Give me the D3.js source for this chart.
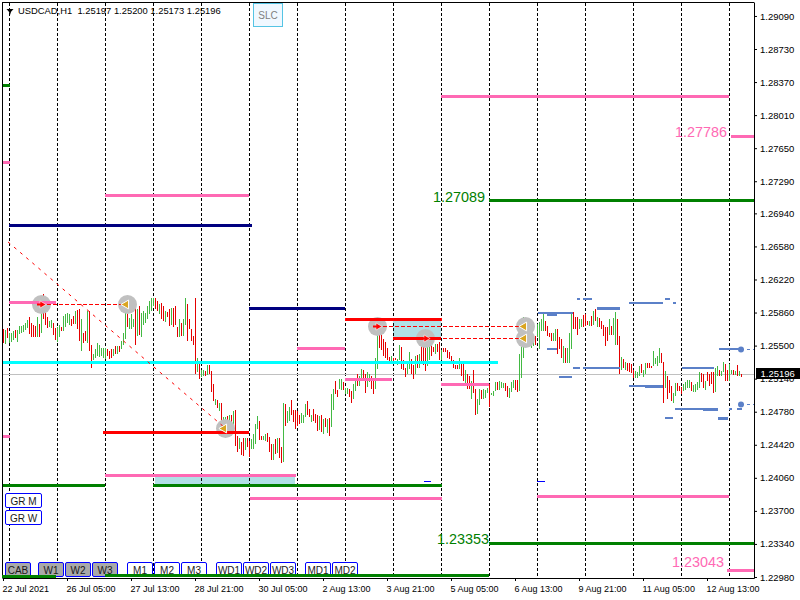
<!DOCTYPE html>
<html>
<head>
<meta charset="utf-8">
<script src="https://cdn.jsdelivr.net/npm/d3@7"></script>
<style>
  html, body { margin: 0; padding: 0; background: #fff; }
  svg { display: block; }
  text { font-family: "Liberation Sans", Arial, sans-serif; }
</style>
</head>
<body>
<div id="drawing"></div>
<script>
const width = 800;
const height = 600;

// hourly bars, in pips (12569 = 1.2569). 10 per row
const barOpen = [
  12569,12553,12570,12554,12555,12557,12568,12555,12564,12565,
  12566,12568,12570,12582,12576,12573,12572,12560,12575,12565,
  12607,12591,12582,12571,12570,12576,12570,12555,12560,12571,
  12567,12571,12576,12574,12580,12583,12575,12590,12591,12545,
  12565,12567,12554,12589,12552,12535,12538,12540,12539,12540,
  12538,12537,12547,12545,12547,12540,12551,12542,12551,12547,
  12552,12558,12596,12569,12569,12571,12594,12562,12594,12560,
  12574,12576,12580,12585,12589,12594,12603,12600,12585,12598,
  12594,12577,12588,12591,12574,12592,12594,12571,12560,12576,
  12562,12574,12596,12580,12569,12562,12603,12522,12531,12517,
  12518,12523,12519,12530,12523,12509,12486,12492,12480,12489,
  12456,12460,12474,12456,12475,12460,12481,12453,12439,12446,
  12451,12437,12450,12447,12439,12439,12444,12460,12469,12453,
  12448,12447,12456,12452,12444,12426,12449,12434,12450,12441,
  12424,12487,12467,12469,12492,12481,12481,12480,12475,12467,
  12467,12473,12491,12482,12468,12482,12477,12476,12459,12475,
  12455,12472,12456,12472,12462,12481,12513,12503,12504,12503,
  12511,12498,12498,12504,12502,12493,12502,12520,12507,12513,
  12525,12520,12506,12511,12518,12515,12504,12526,12576,12571,
  12558,12555,12549,12539,12533,12538,12538,12530,12535,12550,
  12535,12527,12520,12526,12536,12530,12520,12541,12527,12552,
  12551,12549,12529,12535,12555,12550,12542,12553,12555,12535,
  12549,12549,12546,12544,12540,12535,12530,12530,12526,12531,
  12531,12509,12520,12518,12493,12524,12504,12477,12486,12503,
  12493,12494,12500,12509,12497,12496,12502,12511,12503,12505,
  12505,12510,12507,12494,12501,12505,12514,12514,12502,12516,
  12538,12578,12569,12567,12549,12551,12562,12560,12547,12567,
  12567,12578,12572,12565,12565,12556,12556,12569,12560,12558,
  12532,12549,12532,12532,12547,12588,12582,12582,12569,12571,
  12584,12585,12578,12572,12583,12574,12591,12571,12581,12578,
  12574,12571,12571,12563,12572,12563,12552,12580,12562,12525,
  12537,12525,12532,12532,12531,12524,12516,12516,12518,12531,
  12517,12520,12532,12532,12529,12529,12531,12529,12532,12543,
  12533,12505,12518,12514,12507,12489,12496,12510,12507,12506,
  12502,12503,12505,12505,12511,12501,12501,12503,12505,12521,
  12520,12503,12522,12520,12522,12522,12501,12518,12524,12518,
  12522,12531,12524,12513,12520,12525,12519,12530,12518,12520
];
const barClose = [
  12554,12568,12559,12565,12565,12567,12559,12568,12572,12572,
  12574,12576,12579,12564,12560,12560,12560,12582,12560,12591,
  12580,12574,12570,12578,12579,12563,12557,12571,12573,12567,
  12583,12586,12587,12585,12572,12575,12589,12569,12556,12580,
  12554,12556,12589,12545,12527,12542,12547,12554,12552,12549,
  12549,12548,12540,12536,12538,12547,12542,12551,12544,12556,
  12565,12594,12571,12581,12585,12580,12552,12591,12563,12587,
  12589,12587,12594,12600,12603,12603,12591,12589,12596,12580,
  12578,12589,12582,12572,12592,12571,12573,12560,12580,12562,
  12580,12603,12556,12569,12556,12552,12520,12538,12515,12525,
  12524,12518,12530,12520,12501,12491,12493,12483,12489,12462,
  12473,12473,12454,12475,12467,12480,12442,12435,12451,12432,
  12431,12451,12441,12430,12449,12455,12466,12474,12448,12448,
  12453,12455,12446,12435,12426,12444,12433,12450,12429,12423,
  12489,12464,12480,12484,12476,12468,12460,12464,12466,12478,
  12475,12487,12475,12473,12475,12469,12467,12458,12474,12457,
  12471,12462,12471,12453,12498,12504,12498,12495,12515,12515,
  12503,12505,12505,12495,12489,12509,12516,12507,12518,12526,
  12513,12499,12522,12520,12504,12498,12538,12571,12549,12546,
  12540,12538,12535,12534,12540,12533,12535,12536,12552,12526,
  12525,12517,12531,12544,12520,12515,12540,12527,12542,12533,
  12530,12523,12563,12558,12540,12544,12553,12544,12535,12546,
  12544,12544,12538,12537,12533,12527,12526,12526,12538,12518,
  12512,12524,12504,12504,12513,12500,12475,12493,12504,12493,
  12504,12503,12505,12484,12499,12502,12511,12503,12512,12511,
  12510,12502,12495,12505,12511,12514,12503,12501,12542,12562,
  12582,12558,12554,12551,12562,12562,12552,12575,12577,12580,
  12585,12567,12562,12560,12556,12565,12569,12542,12547,12538,
  12551,12532,12549,12565,12585,12569,12569,12563,12580,12580,
  12571,12572,12573,12578,12572,12589,12578,12582,12571,12569,
  12562,12551,12556,12580,12563,12581,12588,12552,12520,12539,
  12527,12533,12523,12522,12521,12516,12523,12522,12529,12521,
  12525,12532,12527,12527,12527,12545,12538,12540,12549,12532,
  12489,12523,12493,12500,12491,12500,12510,12502,12502,12498,
  12509,12511,12514,12514,12502,12508,12509,12511,12522,12511,
  12505,12513,12513,12507,12509,12500,12527,12529,12518,12523,
  12533,12513,12513,12531,12525,12519,12523,12518,12523,12517
];

const priceTicks = [1.2909,1.2873,1.2837,1.2801,1.2765,1.2729,1.2694,1.2658,1.2622,1.2586,1.255,1.2514,1.2478,1.2442,1.2406,1.237,1.2334,1.2298];
const timeTickBars = [0,32,64,96,128,160,192,224,256,288,320,352];
const timeLabels = ["22 Jul 2021","26 Jul 05:00","27 Jul 13:00","28 Jul 21:00","30 Jul 05:00","2 Aug 13:00","3 Aug 21:00","5 Aug 05:00","6 Aug 13:00","9 Aug 21:00","11 Aug 05:00","12 Aug 13:00"];
const lastPrice = 1.25196;

// level lines: [from bar, to bar, price]
const pinkLevels = [
  [-0.5,3.5,1.275],[-0.5,3.5,1.24516],[51,123,1.27141],[3,26.5,1.25975],[147,171,1.25474],
  [171,194.5,1.25137],[219,243,1.25082],[219,363,1.28219],[364,375.5,1.27786],[51,146.5,1.24091],
  [123.5,219.5,1.23841],[267,363,1.23862],[362,375.5,1.23053]
];
const navyLevels = [[3,124.5,1.26814],[123,171,1.2591]];
const redLevels = [[171,219.5,1.2579],[195,219,1.25583],[50,123,1.24559]];
const cyanLevels = [[0,247.5,1.25322]];
const greenLevels = [
  [-0.5,3.5,1.28339],[243,375.5,1.27089],[243,375.5,1.23353],[-0.5,51,1.23982],
  [75,219.5,1.23982],[51,243,1.22997],[-0.5,26.5,1.2299]
];
const blueThin = [
  [287,288.5,1.26008],[290,294.5,1.26008],[313,330,1.25964],[331,333.5,1.26008],[335,336.5,1.25964],
  [267.5,285,1.25855],[272,277,1.25463],[285,288.5,1.25256],[290,308.5,1.25256],[278,284.5,1.25158],
  [313,330,1.2506],[339.5,355.5,1.25256],[336,357.5,1.2481],[331,335,1.24712],[363,364.5,1.2481],
  [367,369.5,1.2481],[358,369,1.25463]
];
const blueThick = [[272,277,1.25844],[297,308.5,1.2591],[321,330,1.2506],[350,357.5,1.2481],[357.5,362.5,1.24712]];
const blueTicks = [[267,271,1.24026],[210.5,214,1.24026]];
const blueDots = [[369,1.25463],[369,1.24864]];

const zones = [[76,146,1.24091,1.23982],[195,219,1.2579,1.25583]];
const dashedLinks = [[19,62,1.25953],[187,261,1.25714],[211,261,1.25583]];
const trendLine = [[2.5,1.26629],[111,1.24603]];
const arrowOut = [[19,1.25953],[187,1.25714],[211,1.25583]];
const arrowIn = [[62,1.25953],[111,1.24603],[261,1.25714],[261,1.25583]];

// text, last bar it reaches, price at its baseline, colour
const levelTexts = [
  ["1.27786",362,1.27772,"#ff69b4"],
  ["1.27089",241,1.2706,"#008000"],
  ["1.23353",243,1.23334,"#008000"],
  ["1.23043",360.5,1.2309,"#ff69b4"]
];

// panel buttons: label, left edge, top edge, pressed
const buttonLabels = ["GR M","GR W","CAB","W1","W2","W3","M1","M2","M3","WD1","WD2","WD3","MD1","MD2"];
const buttonLefts = [5,5,5,38,65,92,127,154,181,216,243,270,305,332];
const buttonTops = [493,510,562,562,562,562,562,562,562,562,562,562,562,562];
const buttonWidths = [36,36,25,25,25,25,25,25,25,25,25,25,25,25];
const buttonPressed = [false,false,true,true,true,true,false,false,false,false,false,false,false,false];

const svg = d3.select("#drawing").append("svg")
  .attr("width", width)
  .attr("height", height)
  .style("background", "#fff");

const xScale = d3.scaleLinear().domain([-0.5, 375.5]).range([2, 754]);
const yScale = d3.scaleLinear().domain([1.29242, 1.22969]).range([2, 578]);
// centre of the pixel row a price falls in, so thin lines stay sharp
const yRow = (price) => Math.round(yScale(price)) + 0.5;

// zones go first, everything else sits on top of them
svg.append("g").selectAll("rect")
  .data(zones)
  .enter()
  .append("rect")
    .attr("x", (d) => xScale(d[0]))
    .attr("width", (d) => xScale(d[1]) - xScale(d[0]))
    .attr("y", (d) => yScale(d[2]))
    .attr("height", (d) => yScale(d[3]) - yScale(d[2]))
    .attr("fill", "#b0e0e6");

// vertical grid
svg.append("g").selectAll("line")
  .data(d3.range(3, 364, 24))
  .enter()
  .append("line")
    .attr("x1", (d) => xScale(d) + 0.5)
    .attr("x2", (d) => xScale(d) + 0.5)
    .attr("y1", 3)
    .attr("y2", 578)
    .attr("stroke", "#000")
    .attr("stroke-dasharray", "3,2")
    .attr("shape-rendering", "crispEdges");

// last price line
svg.append("line")
  .attr("x1", xScale(-0.5))
  .attr("x2", xScale(375.5))
  .attr("y1", yRow(lastPrice))
  .attr("y2", yRow(lastPrice))
  .attr("stroke", "#c0c0c0")
  .attr("shape-rendering", "crispEdges");

// bars
svg.append("g").selectAll("line")
  .data(barOpen)
  .enter()
  .append("line")
    .attr("x1", (d, i) => xScale(i) + 0.5)
    .attr("x2", (d, i) => xScale(i) + 0.5)
    .attr("y1", (d) => yRow(d / 10000))
    .attr("y2", (d, i) => yRow(barClose[i] / 10000))
    .attr("stroke", (d, i) => barClose[i] >= d ? "#43b943" : "#e40000")
    .attr("shape-rendering", "crispEdges");

// grey halos behind the arrows
svg.append("g").selectAll("circle")
  .data(arrowOut.concat(arrowIn))
  .enter()
  .append("circle")
    .attr("cx", (d) => xScale(d[0]) + 0.5)
    .attr("cy", (d) => yRow(d[1]))
    .attr("r", 9.5)
    .attr("fill", "#c0c0c0");

function drawLevels(rows, color, lineWidth) {
  const shift = lineWidth % 2 ? 0 : -0.5;
  svg.append("g").selectAll("line")
    .data(rows)
    .enter()
    .append("line")
      .attr("x1", (d) => xScale(d[0]))
      .attr("x2", (d) => xScale(d[1]))
      .attr("y1", (d) => yRow(d[2]) + shift)
      .attr("y2", (d) => yRow(d[2]) + shift)
      .attr("stroke", color)
      .attr("stroke-width", lineWidth)
      .attr("shape-rendering", "crispEdges");
}

const blue = "#5b80c8";
drawLevels(blueThin, blue, 2);
drawLevels(blueThick, blue, 3);
drawLevels(blueTicks, "#0000ff", 1);
drawLevels(pinkLevels, "#ff69b4", 3);
drawLevels(navyLevels, "#000080", 3);
drawLevels(redLevels, "#ff0000", 3);
drawLevels(cyanLevels, "#00ffff", 3);
drawLevels(greenLevels, "#008000", 3);

// the two blue dots and their dashes out to the axis
svg.selectAll(".dot")
  .data(blueDots)
  .enter()
  .append("circle")
    .attr("class", "dot")
    .attr("cx", (d) => xScale(d[0]))
    .attr("cy", (d) => yRow(d[1]))
    .attr("r", 3)
    .attr("fill", blue);

svg.selectAll(".dotLink")
  .data(blueDots)
  .enter()
  .append("line")
    .attr("class", "dotLink")
    .attr("x1", (d) => xScale(d[0]))
    .attr("x2", xScale(375.5))
    .attr("y1", (d) => yRow(d[1]))
    .attr("y2", (d) => yRow(d[1]))
    .attr("stroke", blue)
    .attr("stroke-dasharray", "3,3")
    .attr("stroke-dashoffset", -6)
    .attr("shape-rendering", "crispEdges");

// dashed connectors
svg.append("g").selectAll("line")
  .data(dashedLinks)
  .enter()
  .append("line")
    .attr("x1", (d) => xScale(d[0]))
    .attr("x2", (d) => xScale(d[1]))
    .attr("y1", (d) => yRow(d[2]))
    .attr("y2", (d) => yRow(d[2]))
    .attr("stroke", "#ff0000")
    .attr("stroke-dasharray", "4,2")
    .attr("shape-rendering", "crispEdges");

svg.append("path")
  .datum(trendLine)
  .attr("d", d3.line().x((d) => xScale(d[0])).y((d) => yScale(d[1])))
  .attr("stroke", "#ff0000")
  .attr("stroke-dasharray", "3,5")
  .attr("fill", "none");

// arrows
const triangle = d3.symbol().type(d3.symbolTriangle).size(34);
svg.append("g").selectAll("path")
  .data(arrowIn)
  .enter()
  .append("path")
    .attr("d", triangle)
    .attr("transform", (d) => `translate(${xScale(d[0]) - 1},${yRow(d[1])}) rotate(-90)`)
    .attr("fill", "#daa520")
    .attr("stroke", "#fff");

svg.append("g").selectAll("path")
  .data(arrowOut)
  .enter()
  .append("path")
    .attr("d", d3.symbol().type(d3.symbolTriangle).size(22))
    .attr("transform", (d) => `translate(${xScale(d[0]) + 1},${yRow(d[1])}) rotate(90)`)
    .attr("fill", "#ff0000")
    .attr("stroke", "#fff")
    .attr("stroke-width", 0.6);

svg.append("g").selectAll("line")
  .data(arrowOut)
  .enter()
  .append("line")
    .attr("x1", (d) => xScale(d[0]) - 4)
    .attr("x2", (d) => xScale(d[0]) + 2)
    .attr("y1", (d) => yRow(d[1]))
    .attr("y2", (d) => yRow(d[1]))
    .attr("stroke", "#ff0000")
    .attr("stroke-width", 2);

// big level labels
svg.append("g").selectAll("text")
  .data(levelTexts)
  .enter()
  .append("text")
    .attr("x", (d) => xScale(d[1]))
    .attr("y", (d) => yScale(d[2]))
    .attr("text-anchor", "end")
    .attr("font-size", 14.4)
    .attr("fill", (d) => d[3])
    .text((d) => d[0]);

// axes
const yAxis = svg.append("g")
  .attr("transform", `translate(754,0)`)
  .call(d3.axisRight(yScale).tickValues(priceTicks).tickFormat(d3.format(".5f")).tickSize(3).tickSizeOuter(0).tickPadding(3));

const xAxis = svg.append("g")
  .attr("transform", `translate(0,578)`)
  .call(d3.axisBottom(xScale).tickValues(timeTickBars).tickFormat((d, i) => timeLabels[i]).tickSize(3).tickSizeOuter(0).tickPadding(5));

yAxis.selectAll("text").attr("font-size", 9.5).attr("font-family", "Liberation Sans").attr("fill", "#000");
xAxis.selectAll("text")
  .attr("font-size", 9)
  .attr("font-family", "Liberation Sans")
  .attr("fill", "#000")
  .attr("text-anchor", "start")
  .attr("dx", -1);

// top and left edge of the chart window
svg.append("line").attr("x1", 2.5).attr("x2", 2.5).attr("y1", 2).attr("y2", 578).attr("stroke", "#000");
svg.append("line").attr("x1", 2).attr("x2", 754).attr("y1", 2.5).attr("y2", 2.5).attr("stroke", "#000");

// last price tag, it covers most of the 1.25140 tick label like the reference
svg.append("rect")
  .attr("x", 756)
  .attr("y", yRow(lastPrice) - 6.5)
  .attr("width", 44)
  .attr("height", 11)
  .attr("fill", "#000");
svg.append("text")
  .attr("x", 760.5)
  .attr("y", yRow(lastPrice) + 2.5)
  .attr("font-size", 9.5)
  .attr("fill", "#fff")
  .text(d3.format(".5f")(lastPrice));

// header
svg.append("path").attr("d", "M6.5,9 L13.5,9 L10,13 Z M9,12 L11,12 L10,15 Z").attr("fill", "#000");
svg.append("text")
  .attr("x", 18)
  .attr("y", 14)
  .attr("font-size", 9.4)
  .attr("fill", "#000")
  .style("white-space", "pre")
  .text("USDCAD,H1  1.25197 1.25200 1.25173 1.25196");

// SLC button
svg.append("rect")
  .attr("x", 253.5).attr("y", 3.5).attr("width", 29).attr("height", 23)
  .attr("fill", "#f0f8ff").attr("stroke", "#55c4e4");
svg.append("text")
  .attr("x", 268).attr("y", 19)
  .attr("text-anchor", "middle")
  .attr("font-size", 10)
  .attr("fill", "#808080")
  .text("SLC");

// panel buttons
const buttons = svg.append("g").selectAll("g")
  .data(buttonLabels)
  .enter()
  .append("g");
buttons.append("rect")
  .attr("x", (d, i) => buttonLefts[i] + 0.5)
  .attr("y", (d, i) => buttonTops[i] + 0.5)
  .attr("width", (d, i) => buttonWidths[i])
  .attr("height", 14)
  .attr("rx", 1.5)
  .attr("fill", (d, i) => buttonPressed[i] ? "#a9a9a9" : "#fff")
  .attr("stroke", "#0000ff");
buttons.append("text")
  .attr("x", (d, i) => buttonLefts[i] + buttonWidths[i] / 2 + 0.5)
  .attr("y", (d, i) => buttonTops[i] + 11.5)
  .attr("text-anchor", "middle")
  .attr("font-size", 10)
  .attr("fill", "#1a1a1a")
  .text((d) => d);

// bottom row of green lines sits on top of the buttons in the reference
drawLevels(greenLevels.slice(5), "#008000", 3);
</script>
</body>
</html>
